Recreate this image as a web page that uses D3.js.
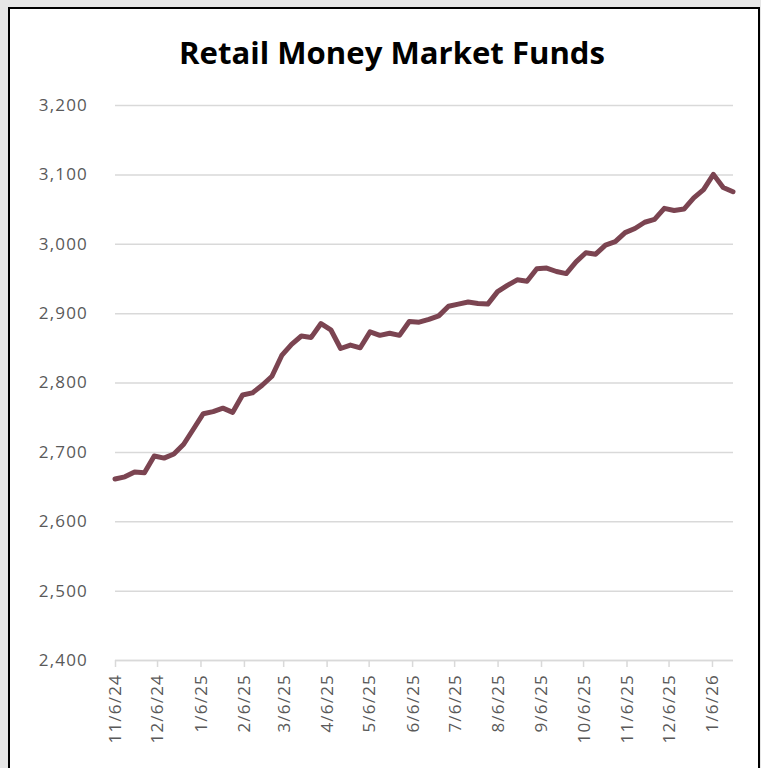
<!DOCTYPE html>
<html>
<head>
<meta charset="utf-8">
<script src="https://cdn.jsdelivr.net/npm/d3@7"></script>
<style>
  html, body { margin: 0; padding: 0; background: #e6e6e6; }
  svg { display: block; }
</style>
</head>
<body>
<svg id="chart" width="761" height="768"></svg>
<script>
// ---- data ----
const title = "Retail Money Market Funds";
const startDate = "11/6/24";   // first weekly observation
const weeklyValues = [
  2661, 2664, 2671, 2670, 2694, 2691, 2697, 2711, 2733, 2755,
  2758, 2763, 2757, 2782, 2785, 2796, 2809, 2839, 2855, 2867,
  2865, 2885, 2876, 2849, 2854, 2850, 2873, 2868, 2871, 2868,
  2888, 2887, 2891, 2896, 2910, 2913, 2916, 2914, 2913, 2931,
  2940, 2948, 2946, 2964, 2965, 2960, 2957, 2974, 2987, 2985,
  2998, 3003, 3016, 3022, 3031, 3035, 3051, 3048, 3050, 3066,
  3078, 3100, 3081, 3075
];
const xTickLabels = ["11/6/24","12/6/24","1/6/25","2/6/25","3/6/25","4/6/25","5/6/25",
  "6/6/25","7/6/25","8/6/25","9/6/25","10/6/25","11/6/25","12/6/25","1/6/26"];
const yTicks = [2400, 2500, 2600, 2700, 2800, 2900, 3000, 3100, 3200];

// ---- setup ----
const parse = d3.timeParse("%m/%d/%y");
const t0 = parse(startDate);
const series = weeklyValues.map((v, i) => ({ date: d3.timeDay.offset(t0, 7 * i), value: v }));
const tickDates = xTickLabels.map(parse);

const svg = d3.select("#chart");
// chart frame
svg.append("rect").attr("x", 9).attr("y", 8).attr("width", 750).attr("height", 780)
  .attr("fill", "#ffffff").attr("stroke", "#000000").attr("stroke-width", 2);

const pLeft = 115, pRight = 733, pTop = 105, pBottom = 660;
const x = d3.scaleTime().domain([series[0].date, series[series.length - 1].date]).range([pLeft, pRight]);
const y = d3.scaleLinear().domain([2400, 3200]).range([pBottom, pTop]);

const font = "'Open Sans', 'Liberation Sans', sans-serif";

// title
svg.append("text").attr("x", 392).attr("y", 64).attr("text-anchor", "middle")
  .attr("font-family", "'Liberation Sans Narrow', 'Open Sans', sans-serif")
  .attr("font-weight", "bold").attr("font-size", 31)
  .attr("fill", "#000").attr("textLength", 426).attr("lengthAdjust", "spacingAndGlyphs")
  .text(title);

// gridlines
const grid = svg.append("g").attr("transform", `translate(${pLeft},0)`)
  .call(d3.axisLeft(y).tickValues(yTicks).tickSize(-(pRight - pLeft)).tickFormat(""));
grid.select(".domain").remove();
grid.selectAll(".tick line").attr("stroke", "#d9d9d9").attr("stroke-width", 1.5);

// y labels
const yAxis = svg.append("g").attr("transform", `translate(${pLeft},0)`)
  .call(d3.axisLeft(y).tickValues(yTicks).tickSize(0).tickPadding(27).tickFormat(d3.format(",")));
yAxis.select(".domain").remove();
yAxis.selectAll("text").attr("font-family", font).attr("font-size", 17)
  .attr("letter-spacing", 1.2).attr("fill", "#595959");

// x axis
const xAxis = svg.append("g").attr("transform", `translate(0,${pBottom})`)
  .call(d3.axisBottom(x).tickValues(tickDates).tickSize(7).tickPadding(0)
    .tickFormat((d, i) => xTickLabels[i]));
xAxis.select(".domain").attr("stroke", "#d9d9d9").attr("stroke-width", 1.5)
  .attr("d", `M${pLeft},0.5H${pRight}`);
xAxis.selectAll(".tick line").attr("stroke", "#d9d9d9").attr("stroke-width", 1.5);
xAxis.selectAll(".tick text")
  .attr("font-family", font).attr("font-size", 17).attr("letter-spacing", 1.2)
  .attr("fill", "#595959")
  .attr("transform", "rotate(-90)")
  .attr("text-anchor", "end")
  .attr("x", -14).attr("y", 0).attr("dy", "0.35em");

// line
svg.append("path").datum(series)
  .attr("fill", "none").attr("stroke", "#7b4451").attr("stroke-width", 5)
  .attr("stroke-linejoin", "round").attr("stroke-linecap", "round")
  .attr("d", d3.line().x(d => x(d.date)).y(d => y(d.value)));
</script>
</body>
</html>
